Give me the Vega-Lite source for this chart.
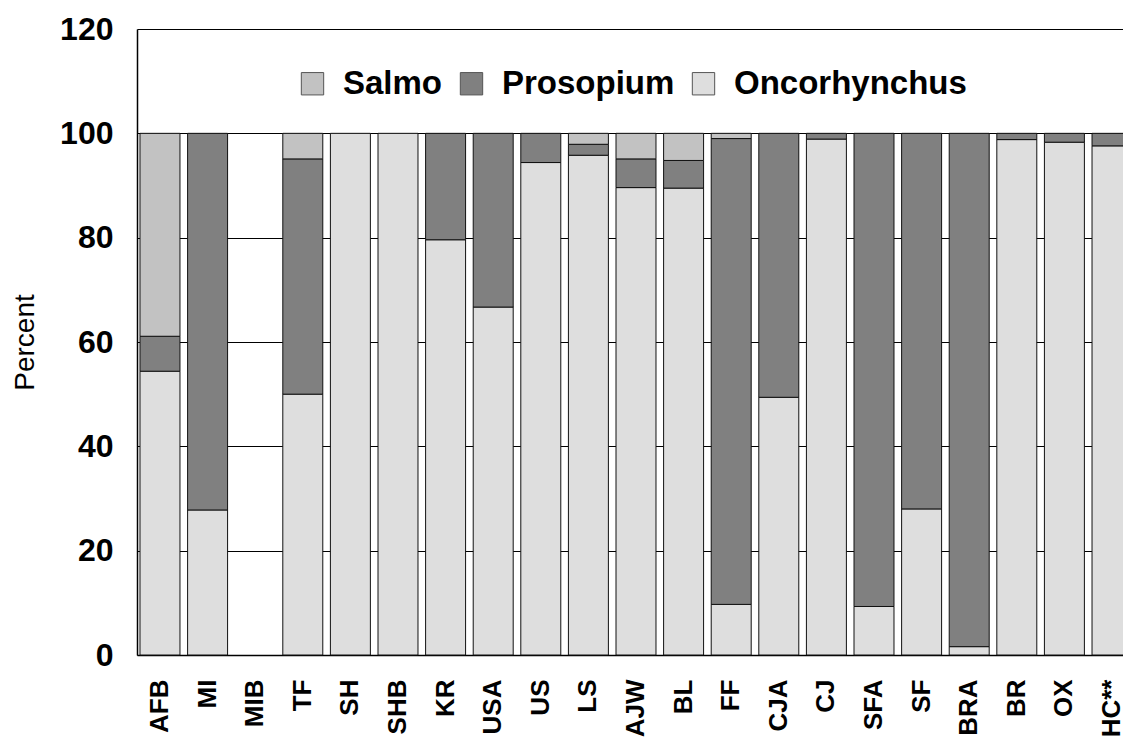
{
  "$schema": "https://vega.github.io/schema/vega-lite/v6.json",
  "autosize": "none",
  "padding": {"left": 137, "top": 29, "right": 0, "bottom": 97},
  "width": 986,
  "height": 626,
  "background": "white",
  "view": {"stroke": null},
  "config": {"font": "Liberation Sans"},
  "data": {"values": [
    {"site": "AFB", "genus": "Oncorhynchus", "ord": 1, "pct": 54.4},
    {"site": "AFB", "genus": "Prosopium", "ord": 2, "pct": 6.7},
    {"site": "AFB", "genus": "Salmo", "ord": 3, "pct": 38.9},
    {"site": "MI", "genus": "Oncorhynchus", "ord": 1, "pct": 27.8},
    {"site": "MI", "genus": "Prosopium", "ord": 2, "pct": 72.2},
    {"site": "TF", "genus": "Oncorhynchus", "ord": 1, "pct": 50.0},
    {"site": "TF", "genus": "Prosopium", "ord": 2, "pct": 45.1},
    {"site": "TF", "genus": "Salmo", "ord": 3, "pct": 4.9},
    {"site": "SH", "genus": "Oncorhynchus", "ord": 1, "pct": 100},
    {"site": "SHB", "genus": "Oncorhynchus", "ord": 1, "pct": 100},
    {"site": "KR", "genus": "Oncorhynchus", "ord": 1, "pct": 79.6},
    {"site": "KR", "genus": "Prosopium", "ord": 2, "pct": 20.4},
    {"site": "USA", "genus": "Oncorhynchus", "ord": 1, "pct": 66.7},
    {"site": "USA", "genus": "Prosopium", "ord": 2, "pct": 33.3},
    {"site": "US", "genus": "Oncorhynchus", "ord": 1, "pct": 94.4},
    {"site": "US", "genus": "Prosopium", "ord": 2, "pct": 5.6},
    {"site": "LS", "genus": "Oncorhynchus", "ord": 1, "pct": 95.8},
    {"site": "LS", "genus": "Prosopium", "ord": 2, "pct": 2.1},
    {"site": "LS", "genus": "Salmo", "ord": 3, "pct": 2.1},
    {"site": "AJW", "genus": "Oncorhynchus", "ord": 1, "pct": 89.6},
    {"site": "AJW", "genus": "Prosopium", "ord": 2, "pct": 5.5},
    {"site": "AJW", "genus": "Salmo", "ord": 3, "pct": 4.9},
    {"site": "BL", "genus": "Oncorhynchus", "ord": 1, "pct": 89.5},
    {"site": "BL", "genus": "Prosopium", "ord": 2, "pct": 5.3},
    {"site": "BL", "genus": "Salmo", "ord": 3, "pct": 5.2},
    {"site": "FF", "genus": "Oncorhynchus", "ord": 1, "pct": 9.7},
    {"site": "FF", "genus": "Prosopium", "ord": 2, "pct": 89.3},
    {"site": "FF", "genus": "Salmo", "ord": 3, "pct": 1.0},
    {"site": "CJA", "genus": "Oncorhynchus", "ord": 1, "pct": 49.4},
    {"site": "CJA", "genus": "Prosopium", "ord": 2, "pct": 50.6},
    {"site": "CJ", "genus": "Oncorhynchus", "ord": 1, "pct": 98.9},
    {"site": "CJ", "genus": "Prosopium", "ord": 2, "pct": 1.1},
    {"site": "SFA", "genus": "Oncorhynchus", "ord": 1, "pct": 9.3},
    {"site": "SFA", "genus": "Prosopium", "ord": 2, "pct": 90.7},
    {"site": "SF", "genus": "Oncorhynchus", "ord": 1, "pct": 28.0},
    {"site": "SF", "genus": "Prosopium", "ord": 2, "pct": 72.0},
    {"site": "BRA", "genus": "Oncorhynchus", "ord": 1, "pct": 1.6},
    {"site": "BRA", "genus": "Prosopium", "ord": 2, "pct": 98.4},
    {"site": "BR", "genus": "Oncorhynchus", "ord": 1, "pct": 98.8},
    {"site": "BR", "genus": "Prosopium", "ord": 2, "pct": 1.2},
    {"site": "OX", "genus": "Oncorhynchus", "ord": 1, "pct": 98.3},
    {"site": "OX", "genus": "Prosopium", "ord": 2, "pct": 1.7},
    {"site": "HC**", "genus": "Oncorhynchus", "ord": 1, "pct": 97.6},
    {"site": "HC**", "genus": "Prosopium", "ord": 2, "pct": 2.4}
  ]},
  "mark": {"type": "bar", "stroke": "#111", "strokeWidth": 1},
  "encoding": {
    "x": {
      "field": "site", "type": "nominal",
      "sort": ["AFB","MI","MIB","TF","SH","SHB","KR","USA","US","LS","AJW","BL","FF","CJA","CJ","SFA","SF","BRA","BR","OX","HC**"],
      "scale": {
        "domain": ["AFB","MI","MIB","TF","SH","SHB","KR","USA","US","LS","AJW","BL","FF","CJA","CJ","SFA","SF","BRA","BR","OX","HC**"],
        "range": [0, 998], "paddingInner": 0.16, "paddingOuter": 0.063
      },
      "axis": {
        "title": null, "labelAngle": 270, "labelFontSize": 26, "labelFontWeight": "bold",
        "labelColor": "black", "labelPadding": 24, "ticks": false, "labelBound": false,
        "domainColor": "black", "domainWidth": 1.5, "grid": false
      }
    },
    "y": {
      "field": "pct", "type": "quantitative", "stack": "zero",
      "scale": {"domain": [0, 120], "nice": false},
      "axis": {
        "title": "Percent", "titleFontSize": 28, "titleFontWeight": "normal", "titleColor": "black",
        "titlePadding": 20,
        "values": [0, 20, 40, 60, 80, 100, 120],
        "labelFontSize": 32, "labelFontWeight": "bold", "labelColor": "black", "labelPadding": 24,
        "ticks": false, "domainColor": "black", "domainWidth": 1.5,
        "grid": true, "gridColor": "black", "gridWidth": 1, "gridOpacity": 1
      }
    },
    "color": {
      "field": "genus", "type": "nominal",
      "scale": {"domain": ["Salmo", "Prosopium", "Oncorhynchus"], "range": ["#c2c2c2", "#808080", "#dedede"]},
      "legend": {
        "title": null, "orient": "none", "direction": "horizontal",
        "legendX": 159, "legendY": 38,
        "symbolType": "square", "symbolSize": 500, "symbolStrokeColor": "#555", "symbolStrokeWidth": 1,
        "symbolOpacity": 1,
        "labelFontSize": 33, "labelFontWeight": "bold", "labelColor": "black", "labelOffset": 14,
        "labelLimit": 500, "columnPadding": 12
      }
    },
    "order": {"field": "ord", "type": "quantitative", "sort": "ascending"}
  }
}
